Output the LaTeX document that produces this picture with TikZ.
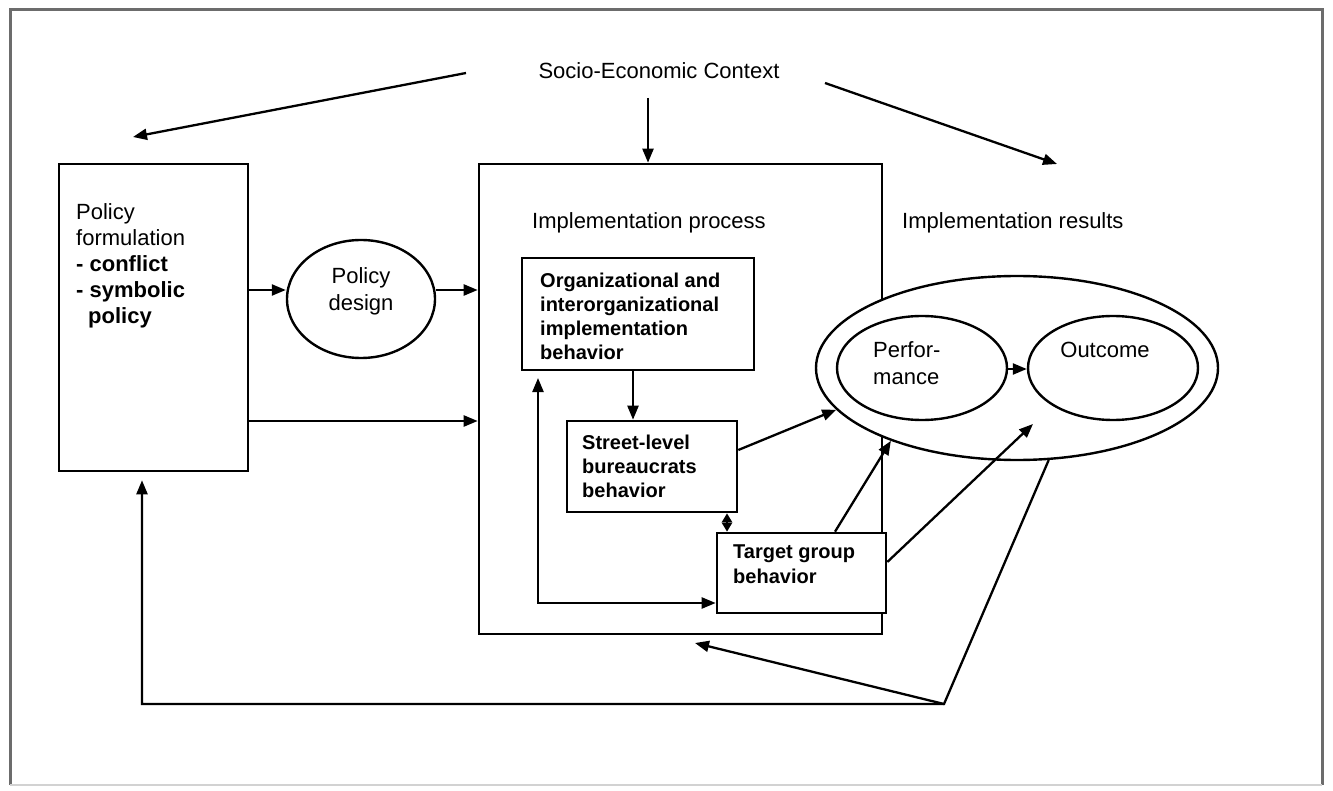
\documentclass[tikz,border=0pt]{standalone}
\usepackage{fontspec}
\setmainfont{Liberation Sans}
\usetikzlibrary{arrows.meta,shapes.geometric,calc}
\begin{document}
\begin{tikzpicture}[x=1pt,y=-1pt,
  box/.style={draw,line width=2.6pt,fill=white,inner sep=0pt,rectangle},
  ell/.style={draw,line width=2.4pt,fill=white,ellipse,inner sep=0pt},
  arr/.style={line width=2.3pt,-{Triangle[length=14pt,width=11pt]}},
  darr/.style={line width=2.3pt,{Triangle[length=14pt,width=11pt]}-{Triangle[length=14pt,width=11pt]}},
  sdarr/.style={line width=2.3pt,{Triangle[length=9pt,width=10pt]}-{Triangle[length=9pt,width=10pt]}},
  lbl/.style={inner sep=0pt,align=left,anchor=west,font=\fontsize{22}{26}\selectfont},
  blbl/.style={inner sep=0pt,align=left,anchor=west,font=\bfseries\fontsize{20}{24}\selectfont},
]
\useasboundingbox (0,0) rectangle (1333,791);
% outer frame
\draw[gray!85!black,line width=3pt] (10,785) -- (10,10) -- (1322,10) -- (1322,785);
\draw[gray!35,line width=1.5pt] (10,785) -- (1322,785);

% header
\node[lbl,anchor=center] (soc) at (659,71) {Socio-Economic Context};

% main boxes
\node[box,minimum width=189pt,minimum height=307pt] (pf) at (153.5,317.5) {};
\node[lbl,font=\fontsize{22}{26}\selectfont] (pft) at (76,266) {Policy\\formulation\\\textbf{- conflict}\\\textbf{- symbolic}\\\textbf{\hspace{12pt}policy}};

\node[ell,minimum width=148pt,minimum height=118pt] (des) at (361,299) {};
\node[lbl,anchor=center,align=center,font=\fontsize{22}{27}\selectfont] (dest) at (361,291) {Policy\\design};

\node[box,minimum width=403pt,minimum height=470pt] (imp) at (680.5,399) {};
\node[lbl] (impt) at (532,223) {Implementation process};

\node[box,minimum width=232pt,minimum height=112pt] (org) at (638,314) {};
\node[blbl] (orgt) at (540,316) {Organizational and\\interorganizational\\implementation\\behavior};

\node[box,minimum width=170pt,minimum height=91pt] (str) at (652,466.5) {};
\node[blbl] (strt) at (582,466.5) {Street-level\\bureaucrats\\behavior};

\node[box,minimum width=169pt,minimum height=80pt] (tgt) at (801.5,573) {};
\node[blbl,font=\bfseries\fontsize{20}{25}\selectfont] (tgtt) at (733,564.5) {Target group\\behavior};

% results
\node[lbl] (rest) at (902,223) {Implementation results};
\node[ell,minimum width=402pt,minimum height=184pt] (out) at (1017,368) {};
\node[ell,minimum width=170pt,minimum height=104pt] (perf) at (922,368) {};
\node[lbl,font=\fontsize{22}{27}\selectfont] (perft) at (873,363.5) {Perfor-\\mance};
\node[ell,minimum width=170pt,minimum height=104pt] (oc) at (1113,368) {};
\node[lbl,anchor=center] (oct) at (1105,350) {Outcome};

% free ends
\coordinate (s1) at (466,73);
\coordinate (e1) at (133,137);
\coordinate (s2) at (648,98);
\coordinate (s3) at (825,83);
\coordinate (e3) at (1057,164);
\coordinate (lp) at (538,378);
\coordinate (e12) at (1033,424);
\coordinate (cr) at (944,704);
\coordinate (bl) at (142,704);
\coordinate (e14) at (695,643);

% connectors from context
\draw[arr] (s1) -- (e1);
\draw[arr] (s2) -- (imp.north -| s2);
\draw[arr] (s3) -- (e3);

% policy flow
\draw[arr] (pf.east |- 0,290) -- (des.west |- 0,290);
\draw[arr] (des.east |- 0,290) -- (imp.west |- 0,290);
\draw[arr] (pf.east |- 0,421) -- (imp.west |- 0,421);

% inside implementation process
\draw[arr] (org.south -| 633,0) -- (str.north -| 633,0);
\draw[sdarr] (str.south -| 727,0) -- (tgt.north -| 727,0);
\draw[darr] (lp) |- (tgt.west |- 0,603);

% to results
\draw[arr] (str.east |- 0,450) -- (out.193.5);
\draw[arr] (tgt.north -| 835,0) -- (out.210.1);
\draw[arr] (tgt.east |- 0,562) -- (e12);
\draw[arr] (perf.east |- 0,369) -- (oc.west |- 0,369);

% feedback
\draw[arr] (out.289.7) -- (cr) -- (bl) -- ($(pf.south -| bl)+(0,8)$);
\draw[arr] (cr) -- (e14);
\end{tikzpicture}
\end{document}
